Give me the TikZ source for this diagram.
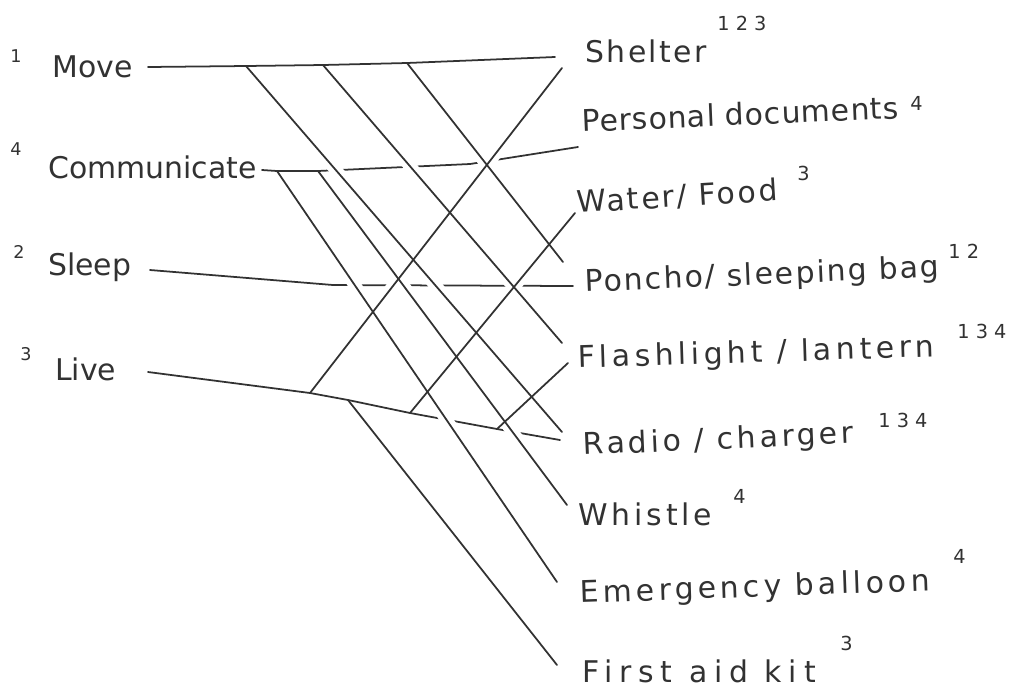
\documentclass[tikz,border=0pt]{standalone}
\usepackage{fontspec}
\setmainfont{DejaVu Sans}
\usetikzlibrary{positioning}
\definecolor{pencil}{RGB}{50,50,50}

\begin{document}
\begin{tikzpicture}[
      x=0.02cm, y=-0.02cm,
      cat/.style={anchor=base west, inner sep=0, text=pencil,
                  font=\fontsize{17}{20}\selectfont},
      item/.style={anchor=base west, inner sep=0, text=pencil,
                   font=\fontsize{17}{20}\selectfont\addfontfeature{LetterSpace=#1}},
      item/.default=0,
      num/.style={anchor=base west, inner sep=0, text=pencil,
                  font=\fontsize{10}{12}\selectfont},
      tag/.style={num, font=\fontsize{11}{13}\selectfont},
      link/.style={draw=pencil, line width=1pt, line join=round, line cap=round},
      gap/.style={draw=white, line width=7pt, shorten <=9pt, shorten >=9pt}
    ]
      \useasboundingbox (0,0) rectangle (1029,691);

      % needs
      \node[cat] (move)  at (52,77)  {Move};
      \node[cat] (comm)  at (48,178) {Communicate};
      \node[cat] (sleep) at (48,275) {Sleep};
      \node[cat] (live)  at (55,380) {Live};
      \node[num] (moveNo)  at (10,62)  {1};
      \node[num] (commNo)  at (10,155) {4};
      \node[num] (sleepNo) at (13,258) {2};
      \node[num] (liveNo)  at (20,360) {3};

      % kit
      \node[item=8]               (shelter) at (585,62)  {Shelter};
      \node[item=3, rotate=2.4]   (docs)    at (582,132) {Personal documents};
      \node[item=8, rotate=3.5]   (water)   at (577,213) {Water/ Food};
      \node[item=7, rotate=2.4]   (poncho)  at (585,292) {Poncho/ sleeping bag};
      \node[item=15, rotate=1.8]  (light)   at (578,368) {Flashlight / lantern};
      \node[item=12, rotate=2.5]  (radio)   at (583,455) {Radio / charger};
      \node[item=13]              (whistle) at (578,525) {Whistle};
      \node[item=14, rotate=2]    (balloon) at (580,603) {Emergency balloon};
      \node[item=23]              (aid)     at (582,682) {First aid kit};
      \node[tag] (shelterNo) at (717,30)  {1 2 3};
      \node[tag] (docsNo)    at (910,110) {4};
      \node[tag] (waterNo)   at (797,180) {3};
      \node[tag] (ponchoNo)  at (948,258) {1 2};
      \node[tag] (lightNo)   at (957,338) {1 3 4};
      \node[tag] (radioNo)   at (878,427) {1 3 4};
      \node[tag] (whistleNo) at (733,503) {4};
      \node[tag] (balloonNo) at (953,563) {4};
      \node[tag] (aidNo)     at (840,650) {3};

      % line ends
      \coordinate (moveOut)  at ([shift={(96,-10)}]move.base west);
      \coordinate (commOut)  at ([shift={(214,-8)}]comm.base west);
      \coordinate (sleepOut) at ([shift={(102,-5)}]sleep.base west);
      \coordinate (liveOut)  at ([shift={(93,-8)}]live.base west);
      \coordinate (shelterM) at ([shift={(-30,-5)}]shelter.base west);
      \coordinate (shelterL) at ([shift={(-23,6)}]shelter.base west);
      \coordinate (docsC)    at ([shift={(-4,15)}]docs.base west);
      \coordinate (waterL)   at ([shift={(-2,0)}]water.base west);
      \coordinate (ponchoM)  at ([shift={(-22,-30)}]poncho.base west);
      \coordinate (ponchoS)  at ([shift={(-12,-6)}]poncho.base west);
      \coordinate (lightM)   at ([shift={(-16,-25)}]light.base west);
      \coordinate (lightL)   at ([shift={(-10,-5)}]light.base west);
      \coordinate (radioM)   at ([shift={(-21,-23)}]radio.base west);
      \coordinate (radioL)   at ([shift={(-23,-15)}]radio.base west);
      \coordinate (whistleC) at ([shift={(-11,-20)}]whistle.base west);
      \coordinate (balloonC) at ([shift={(-23,-21)}]balloon.base west);
      \coordinate (aidL)     at ([shift={(-25,-17)}]aid.base west);

      % branch points and bends
      \coordinate (bm1) at (246,66);
      \coordinate (bm2) at (323,65);
      \coordinate (bm3) at (407,63);
      \coordinate (bc1) at (277,171);
      \coordinate (bc2) at (318,171);
      \coordinate (commBend) at (470,164);
      \coordinate (sleepBend) at (333,285);
      \coordinate (bl1) at (310,393);
      \coordinate (bl2) at (348,400);
      \coordinate (bl3) at (410,413);
      \coordinate (bl4) at (497,429);

      \draw[link] (moveOut) -- (bm1) -- (bm2) -- (bm3) -- (shelterM);
      \draw[link] (commOut) -- (bc1) -- (bc2) -- (commBend) -- (docsC);
      \draw[link] (sleepOut) -- (sleepBend) -- (ponchoS);
      \draw[link] (liveOut) -- (bl1) -- (bl2) -- (bl3) -- (bl4) -- (radioL);

      % crossings break the flat lines
      \foreach \s/\e in {bm1/radioM, bm2/lightM, bm3/ponchoM, bc1/balloonC, bc2/whistleC,
                         bl1/shelterL, bl2/aidL, bl3/waterL, bl4/lightL}
        \draw[gap] (\s) -- (\e);
      \foreach \s/\e in {bm1/radioM, bm2/lightM, bm3/ponchoM, bc1/balloonC, bc2/whistleC,
                         bl1/shelterL, bl2/aidL, bl3/waterL, bl4/lightL}
        \draw[link] (\s) -- (\e);
    \end{tikzpicture}
\end{document}
